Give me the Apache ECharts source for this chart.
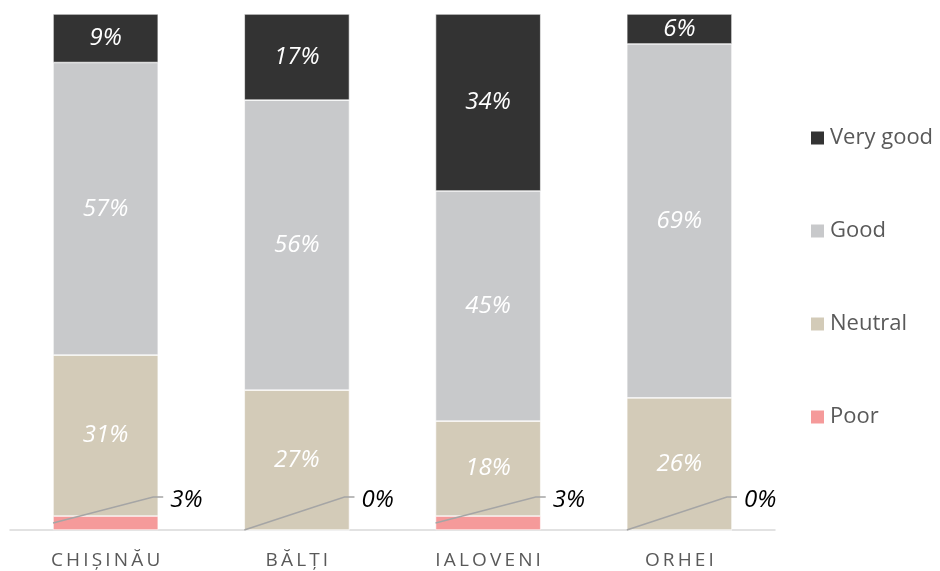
<!DOCTYPE html>
<html>
<head>
<meta charset="utf-8">
<script src="https://cdn.jsdelivr.net/npm/echarts@6/dist/echarts.min.js"></script>
<style>
  html, body { margin: 0; padding: 0; background: #fff; }
  #chart { width: 940px; height: 571px; }
</style>
</head>
<body>
<div id="chart"></div>
<script>
// data (share of answers, %)
var cities = ['CHIȘINĂU', 'BĂLȚI', 'IALOVENI', 'ORHEI'];
var poor = [2.7, 0, 2.7, 0];
var neutral = [31.2, 27.1, 18.4, 25.6];
var good = [56.7, 56.2, 44.6, 68.6];
var veryGood = [9.4, 16.7, 34.3, 5.8];
var legendNames = ['Very good', 'Good', 'Neutral', 'Poor'];

var FONT = '"Open Sans", "Noto Sans", sans-serif';
var BAR_W = 0.55;

var chart = echarts.init(document.getElementById('chart'));

function pct(p) {
    return Math.round(p.value) + '%';
}

var inLabel = {
    show: true,
    position: 'inside',
    color: '#fff',
    fontFamily: FONT,
    fontStyle: 'italic',
    fontSize: 24,
    formatter: pct
};

function barSeries(name, data, color, label) {
    return {
        name: name,
        type: 'bar',
        stack: 'all',
        barWidth: (BAR_W * 100) + '%',
        data: data,
        itemStyle: { color: color, borderColor: '#fff', borderWidth: 0.6 },
        label: label,
        emphasis: { disabled: true },
        z: 2
    };
}

// leader line + outside label for "Poor"
function poorRender(params, api) {
    var i = api.value(0), v = api.value(1);
    var base = api.coord([i, 0]);
    var top = api.coord([i, v]);
    var bw = api.size([1, 0])[0] * BAR_W;
    var x0 = base[0] - bw / 2, x1 = base[0] + bw / 2;
    var yl = base[1] - 33;
    return {
        type: 'group',
        children: [{
            type: 'polyline',
            shape: { points: [[x0, (base[1] + top[1]) / 2], [x1 - 5, yl], [x1 + 5, yl]] },
            style: { stroke: '#a5a5a5', lineWidth: 1.5, fill: null }
        }, {
            type: 'text',
            style: {
                x: x1 + 12, y: yl + 3,
                text: Math.round(v) + '%',
                fill: '#000',
                font: 'italic 24px ' + FONT,
                verticalAlign: 'middle'
            }
        }]
    };
}

var option = {
    animation: false,
    backgroundColor: '#fff',
    grid: { left: 10, right: 165, top: 14, bottom: 41 },
    legend: {
        data: legendNames,
        orient: 'vertical',
        left: 804,
        top: 122,
        itemWidth: 15,
        itemHeight: 15,
        itemGap: 71,
        icon: 'rect',
        textStyle: { fontFamily: FONT, fontSize: 22, color: '#595959', lineHeight: 22, padding: [0, 0, 0, 0] }
    },
    xAxis: {
        type: 'category',
        data: cities,
        axisTick: { show: false },
        axisLine: { lineStyle: { color: '#d9d9d9', width: 1.5 } },
        axisLabel: {
            margin: 21,
            fontFamily: FONT,
            fontSize: 19,
            color: '#595959',
            formatter: function (s) { return s.split('').join('\u2009'); }
        }
    },
    yAxis: {
        type: 'value',
        min: 0,
        max: 100,
        show: false
    },
    series: [
        barSeries('Poor', poor, '#f59a9a', { show: false }),
        barSeries('Neutral', neutral, '#d3cbb8', inLabel),
        barSeries('Good', good, '#c8c9cb', inLabel),
        barSeries('Very good', veryGood, '#333333', inLabel),
        {
            type: 'custom',
            name: 'poorLabels',
            data: poor.map(function (v, i) { return [i, v]; }),
            renderItem: poorRender,
            silent: true,
            z: 5
        }
    ]
};

chart.setOption(option);
</script>
</body>
</html>
